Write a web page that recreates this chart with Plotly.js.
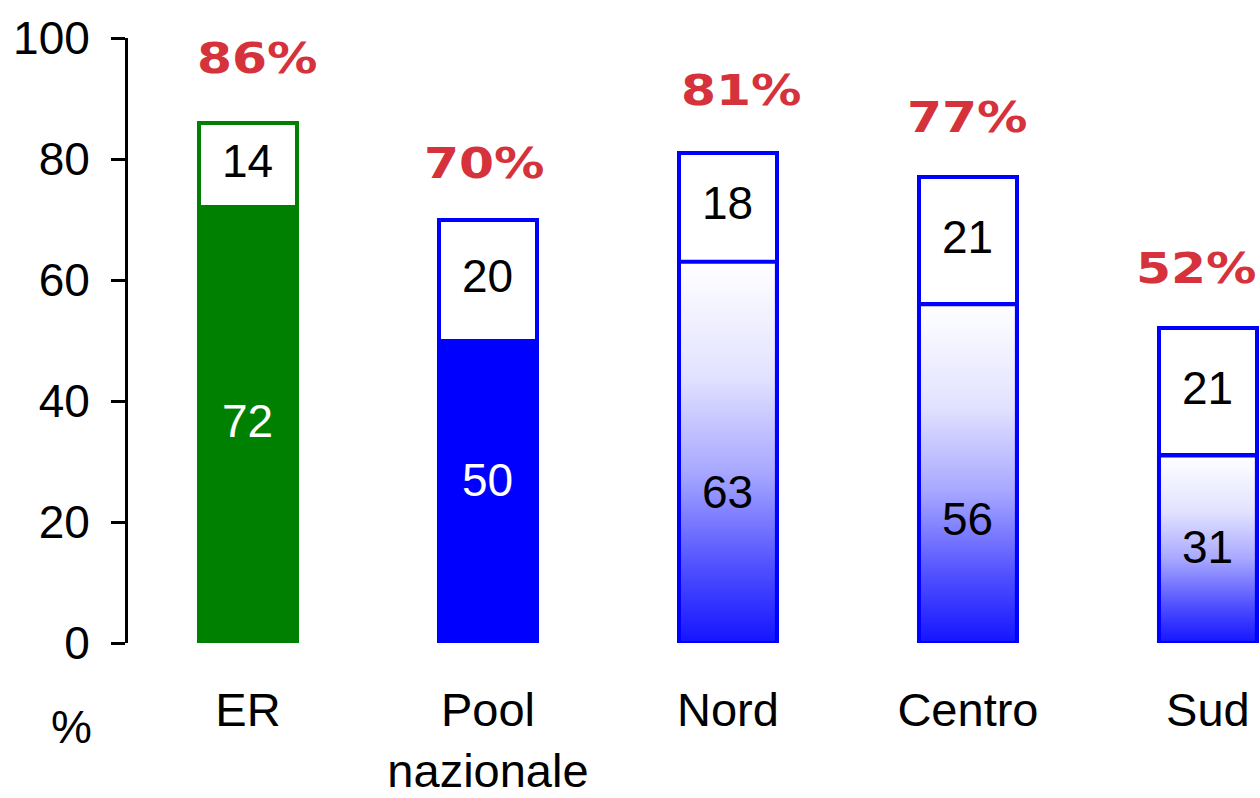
<!DOCTYPE html>
<html>
<head>
<meta charset="utf-8">
<script src="https://cdn.plot.ly/plotly-3.0.1.min.js"></script>
<style>
  html, body { margin: 0; padding: 0; background: #fff; }
  #chart { width: 1260px; height: 798px; }
  /* the red percentage labels are set wide in the original */
  text.annotation-text[style*="213, 50, 59"] {
    transform-box: fill-box; transform-origin: center; transform: scaleX(1.2);
  }
</style>
</head>
<body>
<div id="chart"></div>
<script>
// values
const categories = ['ER', 'Pool<br>nazionale', 'Nord', 'Centro', 'Sud'];
const lowerValues = [72, 50, 63, 56, 31];
const upperValues = [14, 20, 18, 21, 21];
const totals = [86, 70, 81, 77, 52];
const yTicks = [0, 20, 40, 60, 80, 100];

const GREEN = '#008000';
const BLUE = '#0000ff';
const RED = '#d5323b';
const BAR_W = 0.408;
const LINE_W = 4;
const SANS = 'Liberation Sans, Arial, sans-serif';

// bar style: ER solid green, Pool solid blue, the regions get a gradient
const edgeColors = [GREEN, BLUE, BLUE, BLUE, BLUE];
const lowerFill = [GREEN, BLUE, 'rgba(0,0,0,0)', 'rgba(0,0,0,0)', 'rgba(0,0,0,0)'];
const lowerTextColor = ['#fff', '#fff', '#000', '#000', '#000'];
const lowerTextShift = [4, 12, -40, -45, 2];
const totalShift = [64, 56, 62, 60, 60];
const totalXShift = [10, -3, 14, 0, -11];
const gradientBars = [2, 3, 4];

const xs = categories.map((_, i) => i);

const traces = [
  {
    type: 'bar', x: xs, y: lowerValues, width: BAR_W,
    marker: { color: lowerFill, line: { color: edgeColors, width: LINE_W } },
    hoverinfo: 'skip',
  },
  {
    type: 'bar', x: xs, y: upperValues, base: lowerValues, width: BAR_W,
    marker: { color: '#fff', line: { color: edgeColors, width: LINE_W } },
    hoverinfo: 'skip',
  },
];

// gradient-filled lower blocks, one trace each so the gradient spans that block
gradientBars.forEach((i) => {
  const l = i - BAR_W / 2, r = i + BAR_W / 2, h = lowerValues[i];
  traces.push({
    type: 'scatter', mode: 'lines',
    x: [l, l, r, r, l], y: [0, h, h, 0, 0],
    fill: 'toself',
    fillgradient: {
      type: 'vertical',
      colorscale: [[0, '#1414ff'], [0.2, '#5050ff'], [0.45, '#a8a8ff'],
                   [0.7, '#e2e2ff'], [1, '#ffffff']],
    },
    line: { color: BLUE, width: LINE_W },
    hoverinfo: 'skip',
  });
});

const annotations = [];
xs.forEach((i) => {
  annotations.push({
    x: i, y: lowerValues[i] / 2, text: String(lowerValues[i]), showarrow: false,
    yshift: lowerTextShift[i],
    font: { family: SANS, size: 46, color: lowerTextColor[i] },
  });
  annotations.push({
    x: i, y: lowerValues[i] + upperValues[i] / 2, text: String(upperValues[i]),
    showarrow: false, yshift: 4,
    font: { family: SANS, size: 46, color: '#000' },
  });
  annotations.push({
    x: i, y: totals[i], text: totals[i] + '%', showarrow: false,
    yshift: totalShift[i], xshift: totalXShift[i],
    font: { family: 'DejaVu Sans, Verdana, sans-serif', size: 42, color: RED, weight: 'bold' },
  });
});
annotations.push({
  xref: 'paper', yref: 'paper', x: -0.05, y: -0.139, xanchor: 'center', yanchor: 'middle',
  text: '%', showarrow: false,
  font: { family: SANS, size: 46, color: '#000' },
});

const layout = {
  width: 1260, height: 798,
  paper_bgcolor: '#fff', plot_bgcolor: '#fff',
  margin: { l: 128, r: 0, t: 38, b: 155 },
  barmode: 'stack',
  showlegend: false,
  xaxis: {
    range: [-0.5, 4.217], tickvals: xs, ticktext: categories,
    showline: false, showgrid: false, zeroline: false, ticks: '',
    ticklabelstandoff: 35,
    tickfont: { family: SANS, size: 47, color: '#000' },
  },
  yaxis: {
    range: [0, 100], tickvals: yTicks, ticks: 'outside', ticklen: 14, tickwidth: 3,
    tickcolor: '#000', showline: true, linewidth: 3, linecolor: '#000',
    showgrid: false, zeroline: false, ticklabelstandoff: 12,
    tickfont: { family: SANS, size: 46, color: '#000' },
  },
  annotations,
};

Plotly.newPlot('chart', traces, layout, { displayModeBar: false, staticPlot: true });
</script>
</body>
</html>
